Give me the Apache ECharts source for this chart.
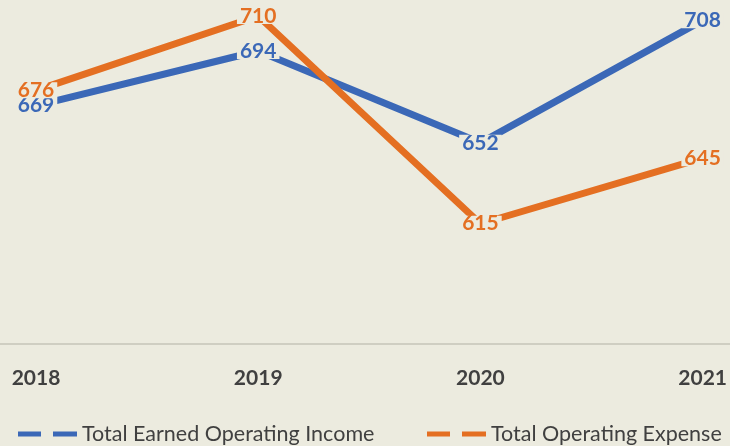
<!DOCTYPE html>
<html>
<head>
<meta charset="utf-8">
<script src="https://cdn.jsdelivr.net/npm/echarts@6/dist/echarts.min.js"></script>
<style>
  html, body { margin: 0; padding: 0; background: #ecebdf; }
  #chart { width: 730px; height: 446px; }
</style>
</head>
<body>
<div id="chart"></div>
<script>
// 年份
var years = ['2018', '2019', '2020', '2021'];
// 收入
var incomeValues = [669, 694, 652, 708];
// 支出
var expenseValues = [676, 710, 615, 645];
var seriesNames = ['Total Earned Operating Income', 'Total Operating Expense'];

var bg = '#ecebdf';
var blue = '#3b68b7';
var orange = '#e46f22';
var textColor = '#404040';
var dashIcon = 'path://M0,0H23V5H0Z M35,0H59V5H35Z';

var myChart = echarts.init(document.getElementById('chart'));

function makeLabel(color) {
  return {
    show: true,
    position: 'inside',
    color: color,
    fontFamily: 'Lato',
    fontWeight: 'bold',
    fontSize: 21,
    lineHeight: 16,
    backgroundColor: bg,
    padding: [0, 3]
  };
}

function makeLegend(left, name) {
  return {
    left: left,
    top: 423,
    padding: 0,
    itemWidth: 59,
    itemHeight: 5,
    icon: dashIcon,
    textStyle: {
      fontFamily: 'Lato',
      fontSize: 21.5,
      color: textColor
    },
    data: [name]
  };
}

var option = {
  backgroundColor: bg,
  animation: false,
  grid: [
    { left: 36, right: 26, top: 16, bottom: 102 },
    // 全宽底线
    { left: 0, right: 0, top: 16, bottom: 102 }
  ],
  legend: [
    makeLegend(18, seriesNames[0]),
    makeLegend(427, seriesNames[1])
  ],
  xAxis: [
    {
      type: 'category',
      gridIndex: 0,
      boundaryGap: false,
      data: years,
      axisLine: { show: false },
      axisTick: { show: false },
      axisLabel: {
        margin: 24,
        fontFamily: 'Lato',
        fontWeight: 'bold',
        fontSize: 21,
        color: textColor
      }
    },
    {
      type: 'category',
      gridIndex: 1,
      data: years,
      axisLine: { lineStyle: { color: '#c6c5b9', width: 1.5 } },
      axisTick: { show: false },
      axisLabel: { show: false }
    }
  ],
  yAxis: [
    { type: 'value', gridIndex: 0, min: 560, max: 710, show: false },
    { type: 'value', gridIndex: 1, min: 560, max: 710, show: false }
  ],
  series: [
    {
      name: seriesNames[0],
      type: 'line',
      data: incomeValues,
      symbol: 'circle',
      symbolSize: 1,
      itemStyle: { color: blue },
      lineStyle: { color: blue, width: 7 },
      label: makeLabel(blue)
    },
    {
      name: seriesNames[1],
      type: 'line',
      data: expenseValues,
      symbol: 'circle',
      symbolSize: 1,
      itemStyle: { color: orange },
      lineStyle: { color: orange, width: 7 },
      label: makeLabel(orange)
    }
  ]
};
myChart.setOption(option);
window.addEventListener('resize', () => {
  myChart.resize();
});
</script>
</body>
</html>
